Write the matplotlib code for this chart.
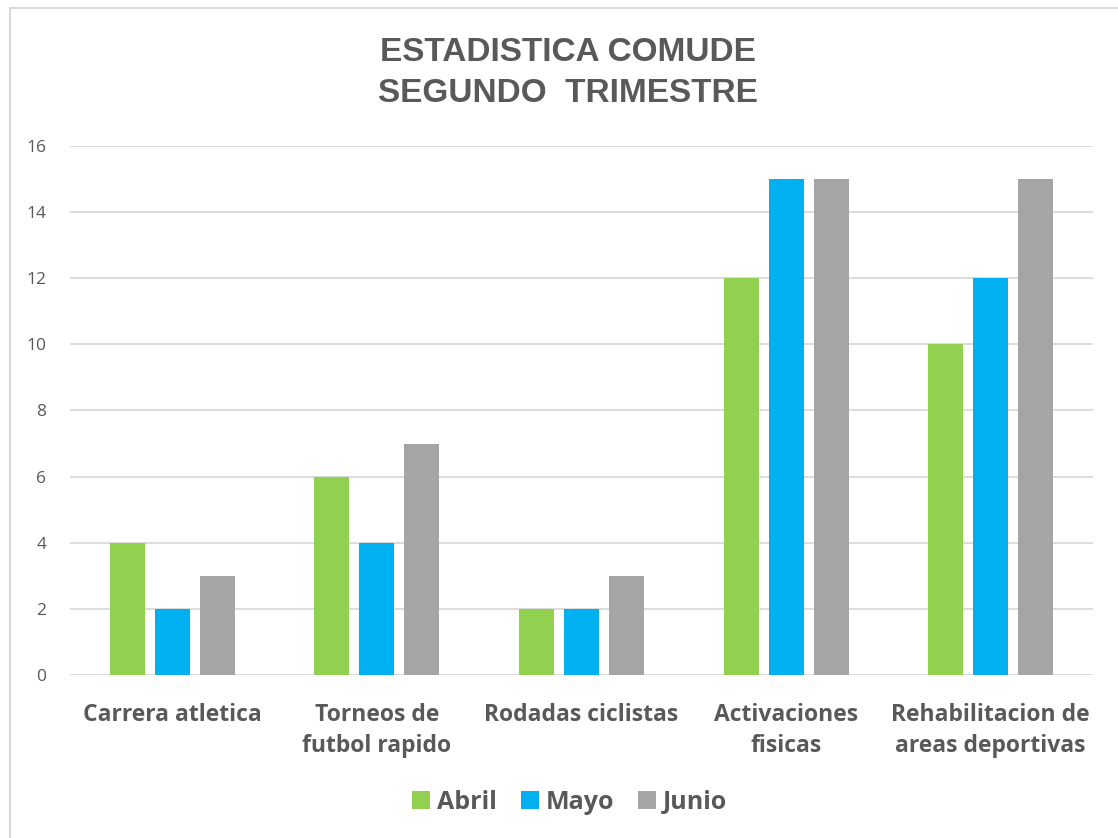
import matplotlib.pyplot as plt
import numpy as np
from matplotlib.patches import Rectangle

categories = [
    "Carrera atletica",
    "Torneos de\nfutbol rapido",
    "Rodadas ciclistas",
    "Activaciones\nfisicas",
    "Rehabilitacion de\nareas deportivas",
]
series_names = ["Abril", "Mayo", "Junio"]
abril = [4, 6, 2, 12, 10]
mayo = [2, 4, 2, 15, 12]
junio = [3, 7, 3, 15, 15]
colors = ["#92d050", "#00b0f0", "#a5a5a5"]
yticks = [0, 2, 4, 6, 8, 10, 12, 14, 16]

TEXT = "#595959"
GRID = "#d9d9d9"

plt.rcParams["font.family"] = ["Open Sans", "DejaVu Sans"]

fig = plt.figure(figsize=(11.18, 8.38), dpi=100)
ax = fig.add_axes([0.0626, 0.1945, 0.915, 0.6313])

# chart frame
fig.patches.append(
    Rectangle(
        (10 / 1118, -0.01),
        1.0,
        1 - 8 / 838 + 0.01,
        transform=fig.transFigure,
        fill=False,
        edgecolor=GRID,
        linewidth=1.5,
    )
)

x = np.arange(len(categories))
width = 0.171
offsets = [-0.22, 0.0, 0.22]

for values, name, color, off in zip([abril, mayo, junio], series_names, colors, offsets):
    ax.bar(x + off, values, width, color=color, label=name, zorder=3)

ax.set_xlim(-0.5, len(categories) - 0.5)
ax.set_ylim(0, 16)
ax.set_yticks(yticks)
ax.set_yticklabels([str(v) for v in yticks], fontsize=12.5, color=TEXT)
ax.set_xticks(x)
ax.set_xticklabels(categories, fontsize=16.5, fontweight="bold", color=TEXT, linespacing=1.4)

ax.grid(axis="y", color=GRID, linewidth=1.3, zorder=0)
ax.tick_params(axis="both", length=0)
ax.tick_params(axis="x", pad=20)
ax.tick_params(axis="y", pad=17)
for spine in ax.spines.values():
    spine.set_visible(False)

fig.text(
    568 / 1118,
    1 - 73 / 838,
    "ESTADISTICA COMUDE\nSEGUNDO  TRIMESTRE",
    ha="center",
    va="center",
    fontsize=24,
    fontweight="bold",
    color=TEXT,
    family=["Liberation Sans", "DejaVu Sans"],
    linespacing=1.45,
)

leg = fig.legend(
    loc="center",
    bbox_to_anchor=(570 / 1118, 1 - 802 / 838),
    ncol=3,
    frameon=False,
    prop={"size": 18, "weight": "bold"},
    handlelength=0.7,
    handleheight=0.7,
    handletextpad=0.3,
    columnspacing=0.95,
)
for t in leg.get_texts():
    t.set_color(TEXT)

fig.savefig("out.png", dpi=100)
